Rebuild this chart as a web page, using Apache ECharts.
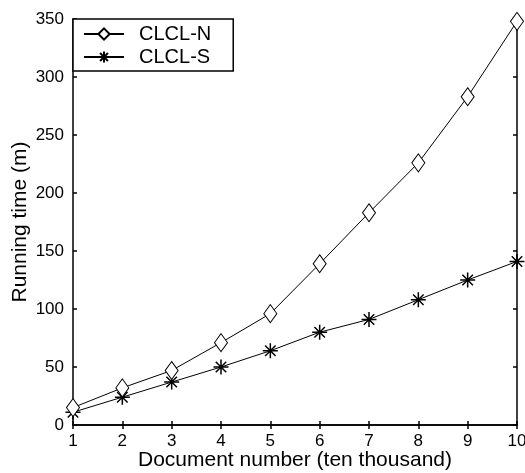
<!DOCTYPE html>
<html>
<head>
<meta charset="utf-8">
<script src="https://cdn.jsdelivr.net/npm/echarts@6/dist/echarts.min.js"></script>
<style>
  html, body { margin: 0; padding: 0; background: #fff; }
  #chart { width: 525px; height: 473px; }
</style>
</head>
<body>
<div id="chart"></div>
<script>
// document number (ten thousand)
var docNumbers = [1, 2, 3, 4, 5, 6, 7, 8, 9, 10];
// running time (m)
var clclN = [15, 32, 47, 71, 96, 139, 183, 226, 283, 348];
var clclS = [11, 24, 37, 50, 64, 80, 91, 108, 125, 141];

var starPath = 'path://M0,-10L0,10M-10,0L10,0M-7,-7L7,7M-7,7L7,-7';

function pairs(vals) {
  return docNumbers.map(function (x, i) { return [x, vals[i]]; });
}

var font = 'Liberation Sans, Arial, sans-serif';
var axisLine = { show: true, lineStyle: { color: '#000', width: 1.5 } };
var tick = { show: true, inside: true, length: 4, lineStyle: { color: '#000', width: 1.5 } };

var chart = echarts.init(document.getElementById('chart'));
chart.setOption({
  animation: false,
  grid: { left: 73, top: 19, right: 8, bottom: 48, outerBoundsMode: 'none', containLabel: false },
  legend: {
    orient: 'vertical',
    left: 73,
    top: 19,
    padding: [5, 22, 4, 10],
    itemGap: 3,
    itemWidth: 40,
    itemHeight: 14,
    borderColor: '#000',
    borderWidth: 1.5,
    borderRadius: 0,
    backgroundColor: '#fff',
    textStyle: { fontFamily: font, fontSize: 20, color: '#000', padding: [0, 0, 0, 10] },
    data: ['CLCL-N', 'CLCL-S']
  },
  xAxis: [{
    type: 'value', min: 1, max: 10, interval: 1,
    name: 'Document number (ten thousand)',
    nameLocation: 'middle', nameGap: 25, nameMoveOverlap: false,
    nameTextStyle: { fontFamily: font, fontSize: 21, color: '#000' },
    axisLine: axisLine, axisTick: tick,
    axisLabel: { fontFamily: font, fontSize: 17, color: '#000', margin: 8 },
    splitLine: { show: false }
  }, {
    type: 'value', min: 1, max: 10, interval: 1, position: 'top',
    axisLine: axisLine, axisTick: tick, axisLabel: { show: false },
    splitLine: { show: false }
  }],
  yAxis: [{
    type: 'value', min: 0, max: 350, interval: 50,
    name: 'Running time (m)',
    nameLocation: 'middle', nameGap: 42, nameMoveOverlap: false,
    nameTextStyle: { fontFamily: font, fontSize: 21, color: '#000' },
    axisLine: axisLine, axisTick: tick,
    axisLabel: { fontFamily: font, fontSize: 17, color: '#000', margin: 9 },
    splitLine: { show: false }
  }, {
    type: 'value', min: 0, max: 350, interval: 50, position: 'right',
    axisLine: axisLine, axisTick: tick, axisLabel: { show: false },
    splitLine: { show: false }
  }],
  series: [{
    name: 'CLCL-N',
    type: 'line',
    data: pairs(clclN),
    symbol: 'diamond',
    symbolSize: [13, 18],
    showAllSymbol: true,
    lineStyle: { color: '#000', width: 1 },
    itemStyle: { color: '#fff', borderColor: '#000', borderWidth: 1 },
    z: 3
  }, {
    name: 'CLCL-S',
    type: 'line',
    data: pairs(clclS),
    symbol: starPath,
    symbolSize: 15,
    showAllSymbol: true,
    lineStyle: { color: '#000', width: 1 },
    itemStyle: { color: '#000', borderColor: '#000', borderWidth: 1.5 },
    z: 2
  }]
});
</script>
</body>
</html>
